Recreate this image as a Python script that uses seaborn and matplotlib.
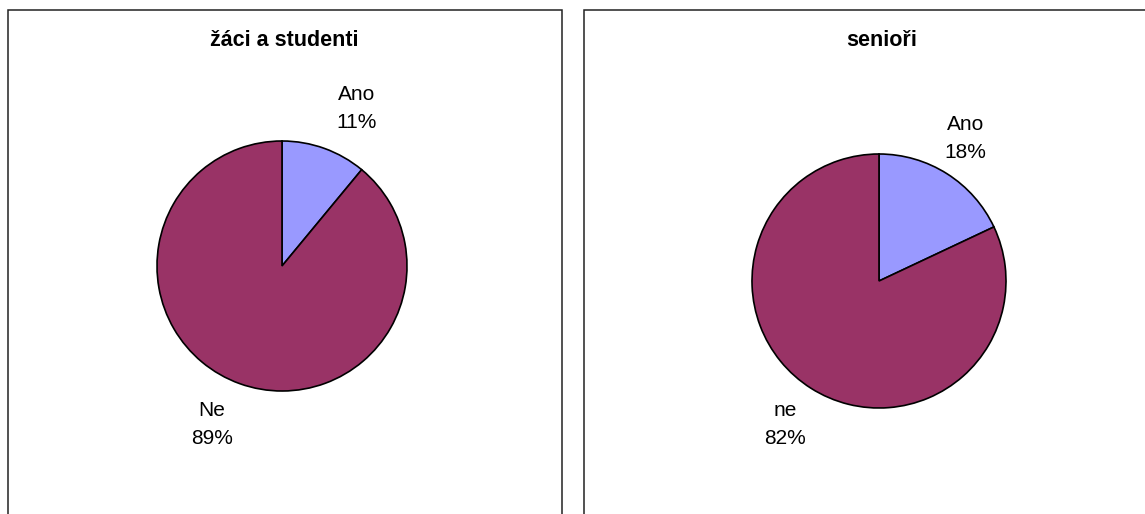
import matplotlib
matplotlib.use("Agg")
import matplotlib.pyplot as plt
from matplotlib.patches import Rectangle
import seaborn as sns

# Survey answers for the two groups
panel_titles = ["žáci a studenti", "senioři"]
student_answers = ["Ano", "Ne"]
student_shares = [11, 89]
senior_answers = ["Ano", "ne"]
senior_shares = [18, 82]

sns.set_theme(style="white")
plt.rcParams["font.family"] = ["Liberation Sans", "DejaVu Sans"]

slice_colors = ["#9999FF", "#993366"]

W, H = 1145, 514
fig = plt.figure(figsize=(W / 100, H / 100), dpi=100)
fig.patch.set_facecolor("white")


def pie_axes(cx, cy, r):
    """Axes centred on pixel (cx, cy) where one data unit equals r pixels."""
    half = 1.4 * r
    ax = fig.add_axes([(cx - half) / W, (H - cy - half) / H, 2 * half / W, 2 * half / H])
    return ax


def frame(x0, x1, top):
    fig.add_artist(Rectangle((x0 / W, -0.05), (x1 - x0) / W, (H - top) / H + 0.05,
                             transform=fig.transFigure, fill=False,
                             edgecolor="#222222", linewidth=1.1))


panels = [
    dict(x0=8, x1=562, top=10, cx=282, cy=266, r=125,
         answers=student_answers, shares=student_shares,
         label_pos=[(0.60, 1.26), (-0.56, -1.27)]),
    dict(x0=584, x1=1180, top=10, cx=879, cy=281, r=127,
         answers=senior_answers, shares=senior_shares,
         label_pos=[(0.68, 1.12), (-0.74, -1.13)]),
]

for title, p in zip(panel_titles, panels):
    frame(p["x0"], p["x1"], p["top"])
    fig.text(p["cx"] / W + 0.002, 1 - 40 / H, title, ha="center", va="center",
             fontsize=15.5, fontweight="bold", color="black")
    ax = pie_axes(p["cx"], p["cy"], p["r"])
    ax.pie(p["shares"], colors=slice_colors, startangle=90, counterclock=False,
           radius=1.0, wedgeprops=dict(edgecolor="black", linewidth=1.2))
    ax.set_xlim(-1.4, 1.4)
    ax.set_ylim(-1.4, 1.4)
    ax.set_aspect("equal")
    ax.axis("off")
    total = sum(p["shares"])
    for name, share, (lx, ly) in zip(p["answers"], p["shares"], p["label_pos"]):
        ax.text(lx, ly, f"{name}\n{round(100 * share / total)}%", ha="center",
                va="center", fontsize=15, color="black", linespacing=1.6)

fig.savefig("out.png", dpi=100, facecolor="white")
